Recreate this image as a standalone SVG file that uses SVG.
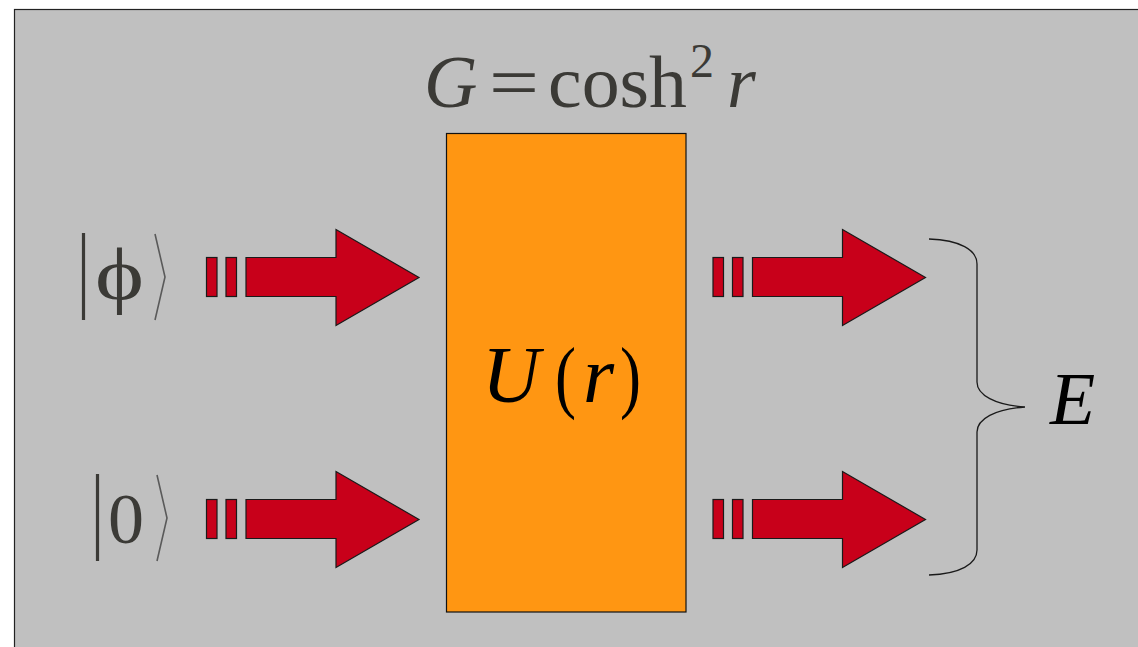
<svg xmlns="http://www.w3.org/2000/svg" width="1138" height="647" viewBox="0 0 1138 647">
<style>
.serif{font-family:"Liberation Serif","Times New Roman",serif}
.it{font-style:italic}
.gray{fill:#3b3a36}
.blk{fill:#000}
.arr{fill:#c8001a;stroke:#1a1a1a;stroke-width:1.2}
.brace{fill:none;stroke:#1a1a1a;stroke-width:1.3}
.thin{stroke:#5a5a5a;stroke-width:1.6;fill:none}
.bar{stroke:#3b3a36;stroke-width:3.2}
</style>
<defs>
<g id="arrowset">
<rect x="0" y="0" width="10.5" height="39" class="arr"/>
<rect x="19.5" y="0" width="10.5" height="39" class="arr"/>
<polygon points="39.5,0 129.5,0 129.5,-28 212.5,20 129.5,68 129.5,39 39.5,39" class="arr"/>
</g>
</defs>
<rect x="14.5" y="9.5" width="1130" height="645" fill="#c0c0c0" stroke="#222" stroke-width="1.2"/>
<g id="title">
<text x="424" y="107" class="serif it gray" font-size="74">G</text>
<text x="489" y="107" class="serif gray" font-size="74" textLength="50" lengthAdjust="spacingAndGlyphs">=</text>
<text x="548" y="107" class="serif gray" font-size="74" textLength="139" lengthAdjust="spacingAndGlyphs">cosh</text>
<text x="690" y="77" class="serif gray" font-size="48">2</text>
<text x="727" y="107" class="serif it gray" font-size="74">r</text>
</g>
<g id="ket-phi">
<line x1="83.5" y1="233" x2="83.5" y2="320" class="bar"/>
<text x="95" y="299" class="serif gray" font-size="74" textLength="49" lengthAdjust="spacingAndGlyphs">ϕ</text>
<polyline points="155,234 165,277 155,320" class="thin"/>
</g>
<g id="ket-0">
<line x1="97.5" y1="474" x2="97.5" y2="561" class="bar"/>
<text x="108" y="543" class="serif gray" font-size="72">0</text>
<polyline points="157,475 167,518 157,561" class="thin"/>
</g>
<g id="box">
<rect x="446.5" y="133.5" width="239.5" height="478.5" fill="#ff9612" stroke="#111" stroke-width="1.2"/>
<text x="482" y="402" class="serif it blk" font-size="80">U</text>
<text x="555" y="403" class="serif blk" font-size="80" textLength="21" lengthAdjust="spacingAndGlyphs">(</text>
<text x="583" y="402" class="serif it blk" font-size="80">r</text>
<text x="620" y="403" class="serif blk" font-size="80" textLength="21" lengthAdjust="spacingAndGlyphs">)</text>
</g>
<g id="connectors">
<use href="#arrowset" x="206.5" y="257.5"/>
<use href="#arrowset" x="206.5" y="499.5"/>
<use href="#arrowset" x="713" y="257.5"/>
<use href="#arrowset" x="713" y="499.5"/>
</g>
<g id="brace-E">
<path d="M929,239 C960,240 977,250 977,264 L977,382 C977,395 995,405 1025,407 C995,409 977,419 977,432 L977,550 C977,564 960,574 929,575" class="brace"/>
<text x="1050" y="424" class="serif it blk" font-size="74">E</text>
</g>
</svg>
